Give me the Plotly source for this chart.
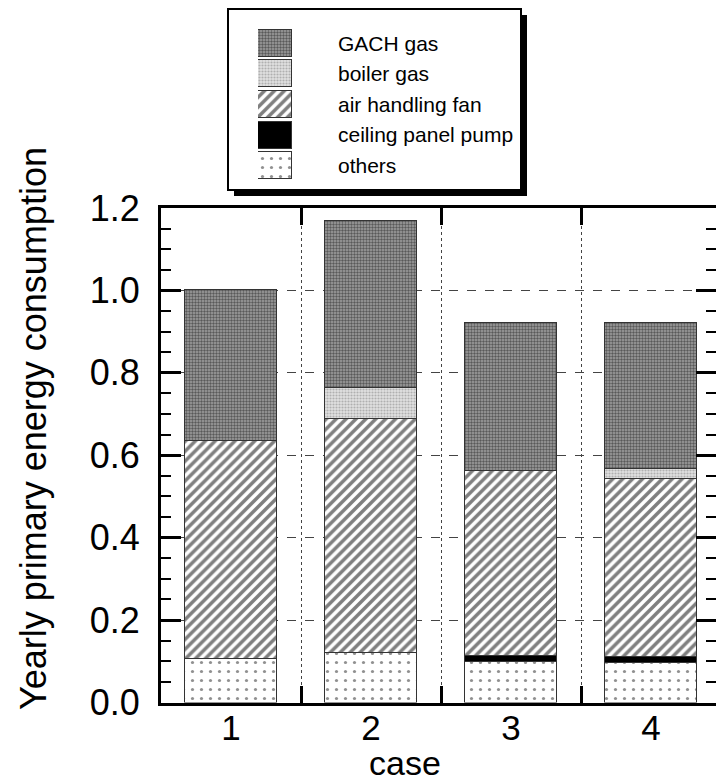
import plotly.graph_objects as go

# ---------------- data ----------------
case_x = [1, 2, 3, 4]
case_labels = ["1", "2", "3", "4"]

others = [0.105, 0.120, 0.099, 0.095]
ceiling_pump = [0.000, 0.000, 0.015, 0.016]
air_fan = [0.530, 0.567, 0.449, 0.431]
boiler_gas = [0.000, 0.077, 0.000, 0.025]
gach_gas = [0.365, 0.404, 0.357, 0.354]

y_ticks = [0.0, 0.2, 0.4, 0.6, 0.8, 1.0, 1.2]

series_names = ["others", "ceiling panel pump", "air handling fan", "boiler gas", "GACH gas"]
series_values = [others, ceiling_pump, air_fan, boiler_gas, gach_gas]

# ---------------- styles ----------------
W, H = 716, 782
FONT = "Liberation Sans, Arial, sans-serif"

styles = {
    "GACH gas": dict(color="#777777", pattern=dict(shape=".", fgcolor="#111111", bgcolor="#a0a0a0", size=3, solidity=0.5)),
    "boiler gas": dict(color="#cccccc", pattern=dict(shape=".", fgcolor="#808080", bgcolor="#e0e0e0", size=3, solidity=0.4)),
    "air handling fan": dict(color="white", pattern=dict(shape="/", fgcolor="#000000", bgcolor="white", size=7, solidity=0.5)),
    "ceiling panel pump": dict(color="black"),
    "others": dict(color="white", pattern=dict(shape=".", fgcolor="#222222", bgcolor="white", size=9, solidity=0.10)),
}

fig = go.Figure()

for name, vals in zip(series_names, series_values):
    st = styles[name]
    fig.add_trace(go.Bar(
        x=case_x, y=vals, name=name, width=0.66,
        marker=dict(color=st["color"], pattern=st.get("pattern"),
                    line=dict(color="#333333", width=1.2)),
        showlegend=False, xaxis="x", yaxis="y",
    ))

# legend swatches drawn as bars on a small auxiliary axis
for name in series_names:
    st = styles[name]
    fig.add_trace(go.Bar(
        x=[1], y=[name], orientation="h", width=0.88,
        marker=dict(color=st["color"], pattern=st.get("pattern"),
                    line=dict(color="#333333", width=1.2)),
        showlegend=False, xaxis="x2", yaxis="y2", hoverinfo="skip",
    ))

px_x = lambda p: p / W
px_y = lambda p: 1 - p / H

fig.update_layout(
    width=W, height=H,
    margin=dict(l=0, r=0, t=0, b=0, pad=0, autoexpand=False),
    paper_bgcolor="white",
    plot_bgcolor="rgba(0,0,0,0)",
    showlegend=False,
    barmode="stack",
    bargap=0,
    font=dict(family=FONT, color="black"),
    xaxis=dict(
        domain=[px_x(161), 1.0],
        range=[0.5, 4.464],
        tickmode="array", tickvals=case_x, ticktext=case_labels,
        ticks="", showgrid=False, zeroline=False,
        tickfont=dict(size=35, family=FONT),
        ticklabelstandoff=-8,
        showline=True, linecolor="black", linewidth=3, mirror="ticks",
        minor=dict(tickmode="array", tickvals=[1.5, 2.5, 3.5],
                   ticks="inside", ticklen=17, tickwidth=2.5, tickcolor="black",
                   showgrid=True, gridcolor="#444444", gridwidth=1, griddash="dot"),
        anchor="y", fixedrange=True, automargin=False,
    ),
    yaxis=dict(
        domain=[px_y(702.5), px_y(208)],
        range=[0, 1.2],
        tickmode="array", tickvals=y_ticks, tickformat=".1f",
        ticks="inside", ticklen=20, tickwidth=2.5, tickcolor="black",
        tickfont=dict(size=36, family=FONT),
        ticklabelstandoff=11,
        showgrid=True, gridcolor="#444444", gridwidth=1, griddash="dash",
        zeroline=False,
        showline=True, linecolor="black", linewidth=3, mirror="ticks",
        minor=dict(dtick=0.05, ticks="inside", ticklen=10, tickwidth=2, tickcolor="black", showgrid=False),
        anchor="x", fixedrange=True, automargin=False,
    ),
    xaxis2=dict(
        domain=[px_x(258), px_x(292)], range=[0, 1], visible=False,
        anchor="y2", fixedrange=True, automargin=False,
    ),
    yaxis2=dict(
        domain=[px_y(181), px_y(28)],
        type="category", categoryorder="array", categoryarray=series_names,
        tickmode="array", tickvals=series_names, ticktext=series_names,
        range=[-0.5, 4.5], side="right", anchor="x2",
        showgrid=False, showline=False, ticks="", zeroline=False,
        tickfont=dict(size=21, family=FONT),
        ticklabelstandoff=45, fixedrange=True, automargin=False,
    ),
    shapes=[
        dict(type="rect", xref="paper", yref="paper", layer="below",
             x0=px_x(234), x1=px_x(527), y0=px_y(196), y1=px_y(15),
             fillcolor="black", line=dict(width=0)),
        dict(type="rect", xref="paper", yref="paper", layer="below",
             x0=px_x(228), x1=px_x(521), y0=px_y(190), y1=px_y(9),
             fillcolor="white", line=dict(color="black", width=2)),
    ],
    annotations=[
        dict(text="Yearly primary energy consumption", xref="paper", yref="paper",
             x=px_x(34), y=px_y(429), textangle=-90, showarrow=False,
             xanchor="center", yanchor="middle", font=dict(size=36, family=FONT)),
        dict(text="case", xref="paper", yref="paper",
             x=px_x(405), y=px_y(784), showarrow=False,
             xanchor="center", yanchor="bottom", font=dict(size=34, family=FONT)),
    ],
)

fig.write_html("out.html")
